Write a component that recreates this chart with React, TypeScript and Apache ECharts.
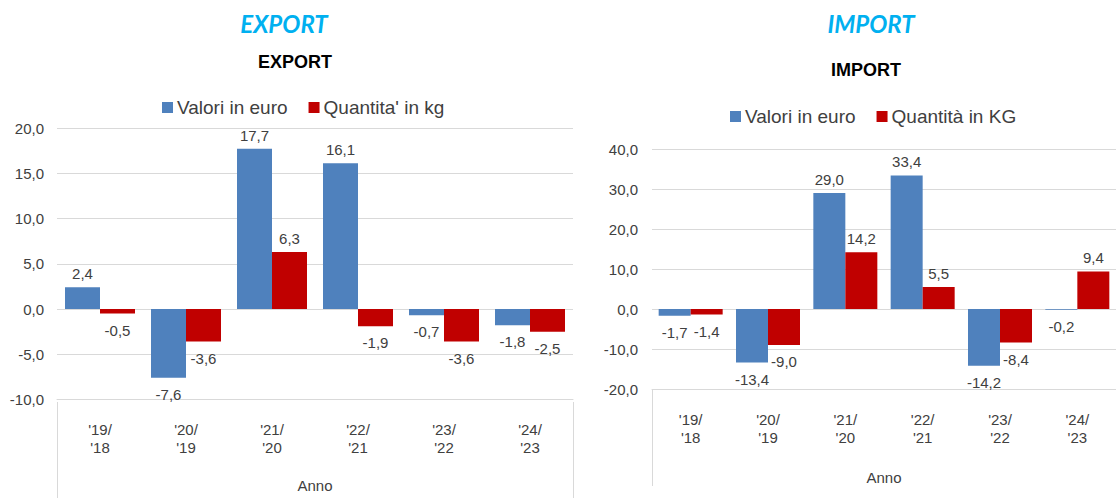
import React, { useEffect, useRef } from 'react';
import * as echarts from 'echarts';

const categories = ["'19/\n'18", "'20/\n'19", "'21/\n'20", "'22/\n'21", "'23/\n'22", "'24/\n'23"];
const exportEuro = [2.4, -7.6, 17.7, 16.1, -0.7, -1.8];
const exportKg = [-0.5, -3.6, 6.3, -1.9, -3.6, -2.5];
const importEuro = [-1.7, -13.4, 29.0, 33.4, -14.2, -0.2];
const importKg = [-1.4, -9.0, 14.2, 5.5, -8.4, 9.4];
const exportAxis = { min: -10, max: 20, interval: 5 };
const importAxis = { min: -20, max: 40, interval: 10 };
const exportNames = ['Valori in euro', "Quantita' in kg"];
const importNames = ['Valori in euro', 'Quantità in KG'];

const FONT = '"Liberation Sans", Arial, sans-serif';
const TEXT = '#404040';
const GRID = '#D9D9D9';
const BLUE = '#4F81BD';
const RED = '#C00000';

const fmt = (v: number) => Number(v).toFixed(1).replace('.', ',');

const items = (vals: number[]) =>
  vals.map((v) => ({
    value: v,
    label: { position: v >= 0 ? 'top' : 'bottom', distance: v >= 0 ? 6 : 9 },
  }));

const G1 = { left: 57, top: 128, width: 516, height: 274 };
const G2 = { left: 652, top: 149, width: 470, height: 240 };

function barSeries(name: string, data: number[], color: string, idx: number, barWidth: number) {
  return {
    type: 'bar',
    name,
    xAxisIndex: idx,
    yAxisIndex: idx,
    data: items(data),
    barWidth,
    barGap: '0%',
    itemStyle: { color },
    label: {
      show: true,
      formatter: (p: any) => fmt(p.value),
      fontSize: 15,
      color: TEXT,
      fontFamily: FONT,
    },
  };
}

function xAxis(idx: number, nameGap: number) {
  return {
    type: 'category',
    gridIndex: idx,
    data: categories,
    axisLine: { show: true, onZero: false, lineStyle: { color: GRID, width: 1 } },
    axisTick: { show: false },
    axisLabel: { interval: 0, fontSize: 15, lineHeight: 18, color: TEXT, fontFamily: FONT, margin: 21 },
    name: 'Anno',
    nameLocation: 'middle',
    nameGap,
    nameTextStyle: { fontSize: 15, color: TEXT, fontFamily: FONT, verticalAlign: 'middle' },
  };
}

function yAxis(idx: number, ax: { min: number; max: number; interval: number }, margin: number) {
  return {
    type: 'value',
    gridIndex: idx,
    min: ax.min,
    max: ax.max,
    interval: ax.interval,
    axisLine: { show: false },
    axisTick: { show: false },
    splitLine: { show: true, lineStyle: { color: GRID, width: 1 } },
    axisLabel: { formatter: (v: number) => fmt(v), fontSize: 15, color: TEXT, fontFamily: FONT, margin },
  };
}

function legend(names: string[], left: number, top: number) {
  return {
    data: names,
    left,
    top,
    icon: 'rect',
    itemWidth: 11,
    itemHeight: 11,
    itemGap: 21,
    selectedMode: false,
    textStyle: { fontSize: 19, color: TEXT, fontFamily: FONT, padding: [0, 0, 0, -1] },
  };
}

const vline = (x: number, y1: number, y2: number) => ({
  type: 'line',
  shape: { x1: x + 0.5, y1, x2: x + 0.5, y2 },
  style: { stroke: GRID, lineWidth: 1 },
  silent: true,
});

const text = (t: string, x: number, y: number, size: number, color: string, italic: boolean, family: string) => ({
  type: 'text',
  x,
  y,
  style: {
    text: t,
    fill: color,
    fontSize: size,
    fontWeight: 'bold',
    fontStyle: italic ? 'italic' : 'normal',
    fontFamily: family,
    align: 'center',
    verticalAlign: 'middle',
  },
});

export default function App() {
  const ref = useRef<HTMLDivElement>(null);
  useEffect(() => {
    if (!ref.current) return;
    const chart = echarts.init(ref.current, undefined, { renderer: 'svg' });
    chart.setOption({
      animation: false,
      backgroundColor: '#ffffff',
      grid: [G1, G2],
      xAxis: [xAxis(0, 86), xAxis(1, 88)],
      yAxis: [yAxis(0, exportAxis, 13), yAxis(1, importAxis, 14)],
      legend: [legend(exportNames, 157, 93), legend(importNames, 725, 102)],
      series: [
        barSeries(exportNames[0], exportEuro, BLUE, 0, 35),
        barSeries(exportNames[1], exportKg, RED, 0, 35),
        barSeries(importNames[0], importEuro, BLUE, 1, 32),
        barSeries(importNames[1], importKg, RED, 1, 32),
      ],
      graphic: [
        text('EXPORT', 284, 23, 24, '#00B0F0', true, 'Lato, "Open Sans", sans-serif'),
        text('IMPORT', 871, 23, 24, '#00B0F0', true, 'Lato, "Open Sans", sans-serif'),
        text('EXPORT', 295, 62, 18, '#000000', false, FONT),
        text('IMPORT', 866, 70, 18, '#000000', false, FONT),
        vline(G1.left, G1.top + G1.height, 498),
        vline(G1.left + G1.width, G1.top + G1.height, 498),
        vline(G2.left, G2.top + G2.height, 486),
      ],
    });
    return () => chart.dispose();
  }, []);
  return (
    <div
      ref={ref}
      style={{ position: 'fixed', left: 0, top: 0, width: 1116, height: 498, background: '#fff' }}
    />
  );
}
